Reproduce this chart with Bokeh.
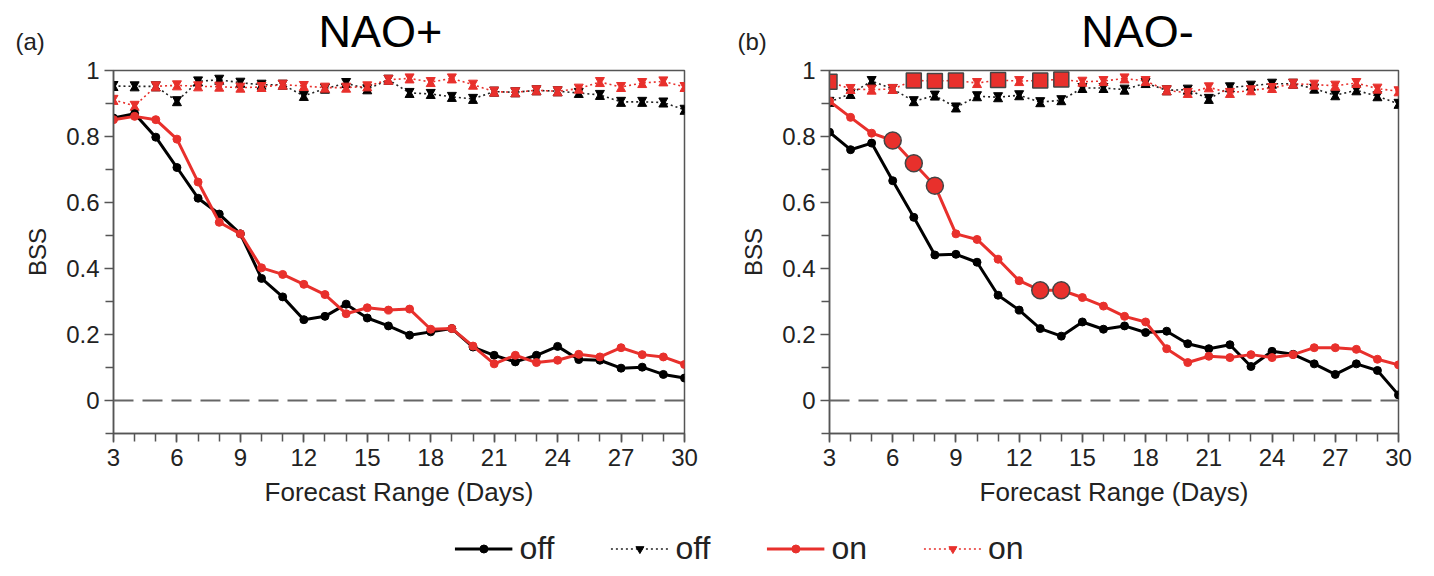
from bokeh.plotting import figure
from bokeh.models import (FixedTicker, Span, Label, Legend, LegendItem, Range1d,
                          ColumnDataSource)
from bokeh.layouts import column, row
from bokeh.transform import dodge
from bokeh.embed import file_html
from bokeh.resources import INLINE

# Forecast lead time (days)
days = list(range(3, 31))

# NAO+ : Brier skill score
off_pos = [0.856, 0.869, 0.798, 0.706, 0.613, 0.565, 0.505, 0.370, 0.314, 0.245,
           0.255, 0.292, 0.250, 0.226, 0.198, 0.208, 0.218, 0.162, 0.137, 0.117,
           0.137, 0.164, 0.124, 0.122, 0.098, 0.101, 0.079, 0.068]
on_pos = [0.851, 0.861, 0.851, 0.792, 0.662, 0.540, 0.505, 0.402, 0.382, 0.352,
          0.321, 0.263, 0.281, 0.274, 0.277, 0.216, 0.218, 0.165, 0.111, 0.137,
          0.115, 0.122, 0.140, 0.132, 0.160, 0.139, 0.132, 0.109]
off_pos_dot = [0.953, 0.952, 0.952, 0.907, 0.967, 0.972, 0.963, 0.957, 0.957, 0.923,
               0.945, 0.962, 0.943, 0.972, 0.932, 0.929, 0.920, 0.914, 0.936, 0.934,
               0.940, 0.937, 0.932, 0.926, 0.905, 0.905, 0.903, 0.881]
on_pos_dot = [0.911, 0.893, 0.952, 0.955, 0.952, 0.951, 0.948, 0.950, 0.957, 0.953,
              0.948, 0.948, 0.952, 0.972, 0.976, 0.965, 0.976, 0.957, 0.936, 0.934,
              0.940, 0.937, 0.945, 0.965, 0.950, 0.962, 0.967, 0.950]

# NAO- : Brier skill score
off_neg = [0.813, 0.760, 0.780, 0.666, 0.555, 0.441, 0.443, 0.419, 0.319, 0.274,
           0.218, 0.195, 0.238, 0.216, 0.226, 0.206, 0.210, 0.172, 0.157, 0.169,
           0.103, 0.149, 0.140, 0.111, 0.079, 0.111, 0.091, 0.017]
on_neg = [0.907, 0.858, 0.810, 0.788, 0.719, 0.651, 0.505, 0.488, 0.428, 0.363,
          0.334, 0.334, 0.312, 0.286, 0.255, 0.238, 0.157, 0.115, 0.134, 0.130,
          0.139, 0.130, 0.139, 0.160, 0.160, 0.155, 0.125, 0.108]
off_neg_dot = [0.905, 0.929, 0.968, 0.944, 0.907, 0.924, 0.888, 0.922, 0.919, 0.925,
               0.904, 0.910, 0.947, 0.947, 0.942, 0.962, 0.940, 0.942, 0.914, 0.949,
               0.954, 0.960, 0.960, 0.945, 0.925, 0.940, 0.922, 0.899]
on_neg_dot = [0.966, 0.944, 0.942, 0.944, 0.970, 0.968, 0.970, 0.962, 0.971, 0.968,
              0.970, 0.973, 0.966, 0.968, 0.976, 0.968, 0.940, 0.932, 0.949, 0.932,
              0.940, 0.947, 0.960, 0.957, 0.954, 0.962, 0.945, 0.937]

# Lead days where the "on" scores differ significantly (NAO- only)
sig_neg_days = [6, 7, 8, 13, 14]
sig_neg_dot_days = [3, 7, 8, 9, 11, 13, 14]

x_major = [3, 6, 9, 12, 15, 18, 21, 24, 27, 30]
y_major = [0, 0.2, 0.4, 0.6, 0.8, 1]
y_minor = [-0.1, 0.1, 0.3, 0.5, 0.7, 0.9]

FONT = "Liberation Sans"
RED = "#e8302c"
FRAME = "#555555"
TEXT = "#222222"
HG = 0.0058  # half-waist shift of the hourglass triangles, in BSS units
HEAD = 56    # height of the title strip above each panel


def style_axes(p):
    p.xgrid.visible = False
    p.ygrid.visible = False
    p.outline_line_color = FRAME
    p.outline_line_width = 1.5
    p.xaxis.ticker = FixedTicker(ticks=x_major, minor_ticks=days)
    p.yaxis.ticker = FixedTicker(ticks=y_major, minor_ticks=y_minor)
    p.yaxis.major_label_overrides = {0: "0", 1: "1"}
    for ax in (p.xaxis[0], p.yaxis[0]):
        ax.axis_line_color = FRAME
        ax.axis_line_width = 1.5
        ax.major_tick_line_color = FRAME
        ax.minor_tick_line_color = FRAME
        ax.major_tick_line_width = 1.5
        ax.minor_tick_line_width = 1.5
        ax.major_tick_in = 0
        ax.minor_tick_in = 0
        ax.major_tick_out = 9
        ax.minor_tick_out = 8
        ax.major_label_text_font = FONT
        ax.major_label_text_font_size = "24px"
        ax.major_label_text_color = TEXT
        ax.axis_label_text_font = FONT
        ax.axis_label_text_font_style = "normal"
        ax.axis_label_text_color = TEXT
    p.xaxis.major_label_standoff = 6
    p.yaxis.major_label_standoff = 5
    p.xaxis.axis_label = "Forecast Range (Days)"
    p.xaxis.axis_label_text_font_size = "26px"
    p.xaxis.axis_label_standoff = 8
    p.yaxis.axis_label = "BSS"
    p.yaxis.axis_label_text_font_size = "24px"
    p.yaxis.axis_label_standoff = 12


def hourglass(p, x, y, color):
    """Hourglass marker built from two triangles meeting at the point."""
    src = ColumnDataSource(dict(x=x, y=y))
    top = p.scatter(x="x", y=dodge("y", HG), source=src, marker="inverted_triangle",
                    size=9, fill_color=color, line_color=color, line_width=1)
    bot = p.scatter(x="x", y=dodge("y", -HG), source=src, marker="triangle",
                    size=9, fill_color=color, line_color=color, line_width=1)
    return top, bot


def draw_series(p, off, on, off_dot, on_dot):
    p.add_layout(Span(location=0, dimension="width", line_color="#666666",
                      line_width=2, line_dash="20 9"))
    # reference skill (dotted)
    p.line(days, off_dot, line_color="#222222", line_width=1.6, line_dash="2 3")
    hourglass(p, days, off_dot, "black")
    p.line(days, on_dot, line_color=RED, line_width=1.6, line_dash="2 3")
    hourglass(p, days, on_dot, RED)
    # forecast skill (solid)
    p.line(days, off, line_color="black", line_width=3)
    p.scatter(days, off, marker="circle", size=8, fill_color="black", line_color="black")
    p.line(days, on, line_color=RED, line_width=3)
    p.scatter(days, on, marker="circle", size=8, fill_color=RED, line_color=RED)


def make_panel(off, on, off_dot, on_dot, left, right):
    p = figure(width=717, height=520 - HEAD, x_range=Range1d(3, 30),
               y_range=Range1d(-0.1, 1.0),
               min_border_left=left, min_border_right=right,
               min_border_top=70 - HEAD, min_border_bottom=87,
               toolbar_location=None, output_backend="svg")
    style_axes(p)
    draw_series(p, off, on, off_dot, on_dot)
    return p


def make_header(name, tag, name_x, tag_x):
    # header strip measured in pixels: x from the left, y up from the bottom
    h = figure(width=717, height=HEAD, x_range=Range1d(0, 717), y_range=Range1d(0, HEAD),
               min_border=0, toolbar_location=None, output_backend="svg")
    h.axis.visible = False
    h.grid.visible = False
    h.outline_line_color = None
    h.add_layout(Label(x=name_x, y=HEAD - 31, text=name,
                       text_font=FONT, text_font_size="45px", text_color="black",
                       text_align="center", text_baseline="middle"))
    h.add_layout(Label(x=tag_x, y=HEAD - 41, text=tag,
                       text_font=FONT, text_font_size="24px", text_color=TEXT,
                       text_align="left", text_baseline="middle"))
    return h


ha = make_header("NAO+", "(a)", 380, 15)
hb = make_header("NAO-", "(b)", 420, 20)
pa = make_panel(off_pos, on_pos, off_pos_dot, on_pos_dot, 113, 33)
pb = make_panel(off_neg, on_neg, off_neg_dot, on_neg_dot, 112, 36)

# significant days in NAO- drawn as enlarged outlined markers
sig_idx = [days.index(d) for d in sig_neg_days]
pb.scatter([days[i] for i in sig_idx], [on_neg[i] for i in sig_idx], marker="circle",
           size=17, fill_color=RED, line_color="#444444", line_width=1.5)
sig_dot_idx = [days.index(d) for d in sig_neg_dot_days]
pb.scatter([days[i] for i in sig_dot_idx], [on_neg_dot[i] for i in sig_dot_idx],
           marker="square", size=15, fill_color=RED, line_color="#444444", line_width=1.5)

# shared legend row; its renderers sit outside the visible range, only the keys show
leg = figure(width=1434, height=56, x_range=Range1d(0, 1), y_range=Range1d(5, 6),
             min_border=0, min_border_left=44, toolbar_location=None, output_backend="svg")
leg.axis.visible = False
leg.grid.visible = False
leg.outline_line_color = None
r1l = leg.line(days, off_pos, line_color="black", line_width=3)
r1m = leg.scatter(days, off_pos, marker="circle", size=8, fill_color="black",
                  line_color="black")
r2l = leg.line(days, off_pos_dot, line_color="#222222", line_width=1.6, line_dash="2 3")
r2a, r2b = hourglass(leg, days, off_pos_dot, "black")
r3l = leg.line(days, on_pos, line_color=RED, line_width=3)
r3m = leg.scatter(days, on_pos, marker="circle", size=8, fill_color=RED, line_color=RED)
r4l = leg.line(days, on_pos_dot, line_color=RED, line_width=1.6, line_dash="2 3")
r4a, r4b = hourglass(leg, days, on_pos_dot, RED)
legend = Legend(items=[LegendItem(label="off", renderers=[r1l, r1m]),
                       LegendItem(label="off", renderers=[r2l, r2a]),
                       LegendItem(label="on", renderers=[r3l, r3m]),
                       LegendItem(label="on", renderers=[r4l, r4a])],
                orientation="horizontal", location="center",
                glyph_width=58, glyph_height=20, label_standoff=7, spacing=56,
                padding=0, margin=0, border_line_alpha=0, background_fill_alpha=0,
                label_text_font=FONT, label_text_font_size="32px", label_text_color=TEXT)
leg.add_layout(legend)

layout = column(row(ha, hb), row(pa, pb), leg)
open("out.html", "w").write(file_html(layout, INLINE))
